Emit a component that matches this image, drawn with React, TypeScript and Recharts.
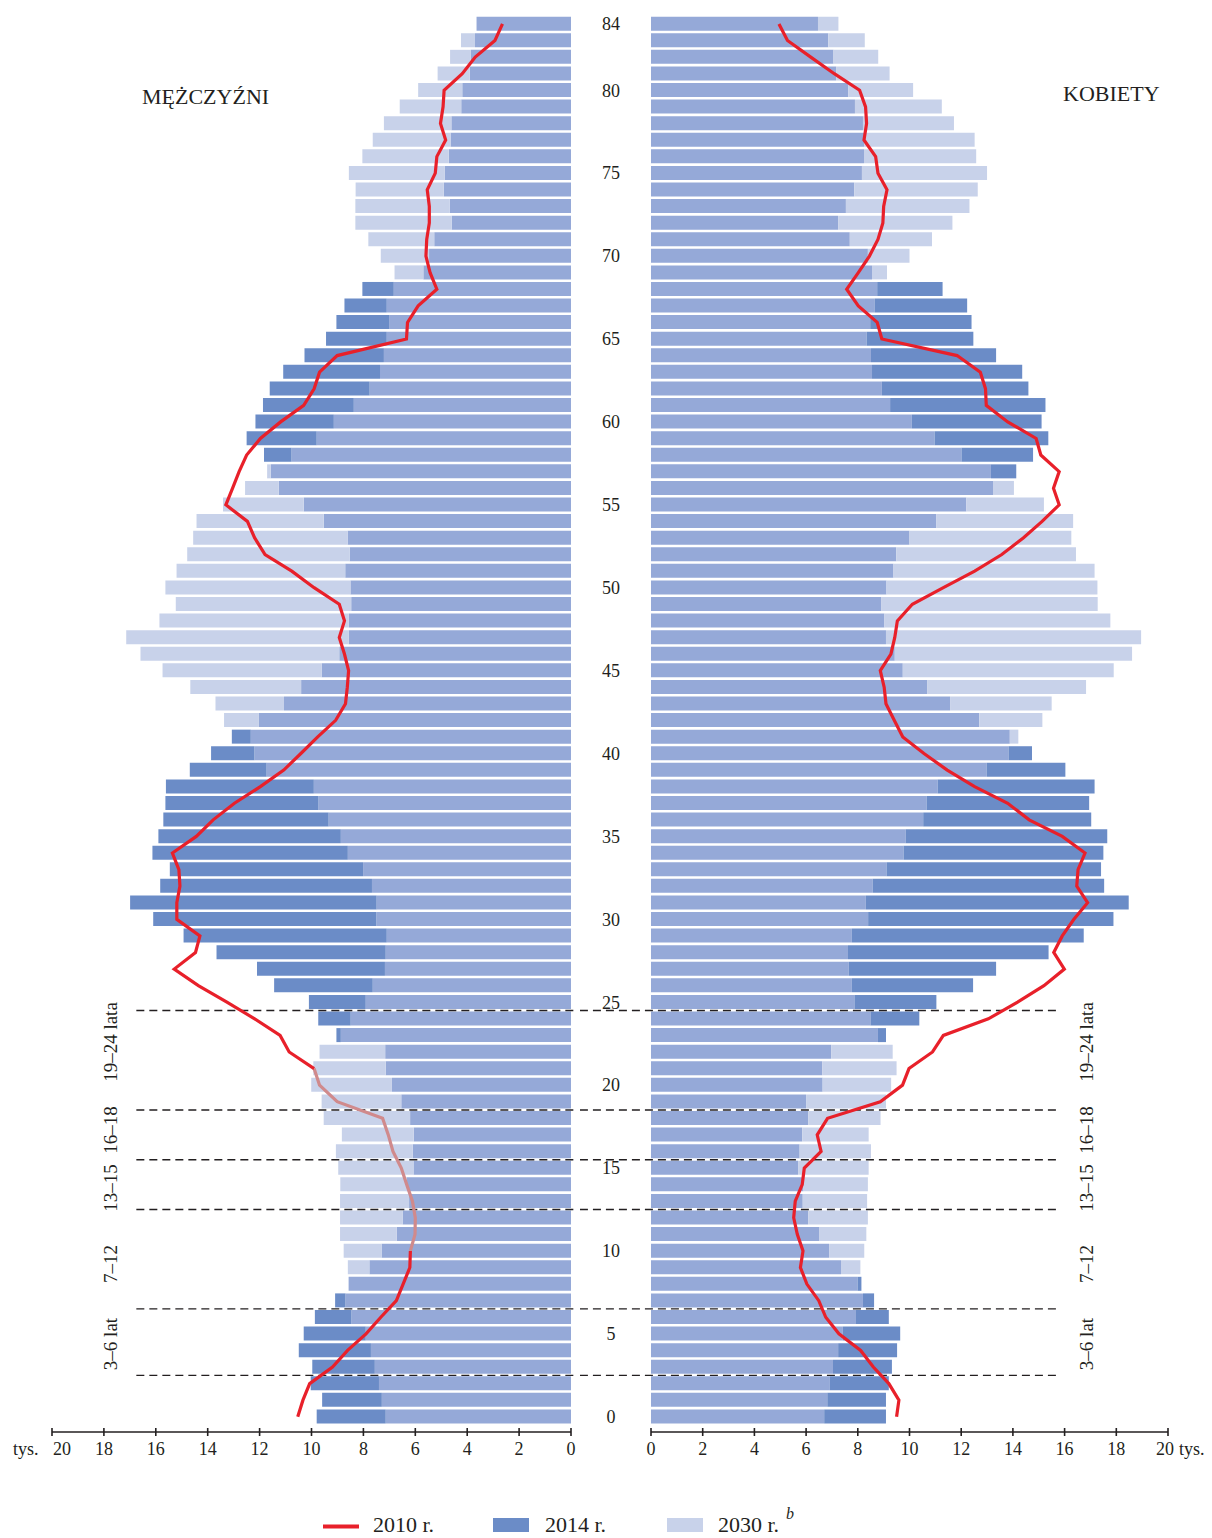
import React from "react";
import { ComposedChart, Bar, Line, XAxis, YAxis, ReferenceLine } from "recharts";

// values in thousands, index = age 0..84
const male2010 = [10.53, 10.33, 10.07, 9.19, 8.61, 7.9, 7.33, 6.73, 6.47, 6.21, 6.19, 6.01, 6.0, 6.11, 6.33, 6.54, 6.86, 7.04, 7.26, 9.01, 9.69, 9.9, 10.86, 11.21, 12.19, 13.26, 14.36, 15.29, 14.47, 14.3, 15.19, 15.19, 15.07, 15.11, 15.36, 14.44, 13.79, 12.97, 11.97, 11.07, 10.41, 9.76, 9.07, 8.69, 8.62, 8.57, 8.73, 8.93, 8.73, 8.93, 9.9, 10.76, 11.79, 12.19, 12.47, 13.3, 13.04, 12.79, 12.5, 11.97, 11.19, 10.3, 9.9, 9.69, 9.01, 6.34, 6.3, 5.89, 5.17, 5.43, 5.59, 5.56, 5.46, 5.46, 5.54, 5.23, 5.17, 4.83, 5.03, 4.93, 4.89, 4.19, 3.69, 2.93, 2.64];
const male2014 = [9.8, 9.59, 10.03, 9.97, 10.49, 10.3, 9.87, 9.09, 8.57, 7.77, 7.3, 6.71, 6.49, 6.24, 6.34, 6.07, 6.1, 6.06, 6.2, 6.54, 6.9, 7.14, 7.16, 9.04, 9.74, 10.1, 11.44, 12.1, 13.66, 14.93, 16.1, 16.99, 15.83, 15.46, 16.13, 15.9, 15.71, 15.63, 15.61, 14.69, 13.87, 13.07, 12.04, 11.06, 10.4, 9.61, 8.93, 8.57, 8.56, 8.47, 8.5, 8.7, 8.53, 8.61, 9.53, 10.3, 11.26, 11.57, 11.83, 12.5, 12.16, 11.87, 11.61, 11.09, 10.27, 9.44, 9.04, 8.73, 8.04, 5.69, 5.47, 5.27, 4.6, 4.67, 4.9, 4.86, 4.71, 4.64, 4.61, 4.23, 4.19, 3.9, 3.86, 3.7, 3.64];
const male2030 = [7.14, 7.29, 7.4, 7.56, 7.71, 7.91, 8.46, 8.69, 8.57, 8.6, 8.76, 8.9, 8.9, 8.9, 8.89, 8.97, 9.06, 8.83, 9.53, 9.61, 10.01, 9.93, 9.69, 8.87, 8.49, 7.91, 7.64, 7.17, 7.14, 7.1, 7.5, 7.49, 7.67, 8.01, 8.6, 8.87, 9.34, 9.73, 9.91, 11.73, 12.2, 12.34, 13.37, 13.7, 14.67, 15.74, 16.59, 17.14, 15.86, 15.23, 15.63, 15.2, 14.79, 14.56, 14.43, 13.41, 12.56, 11.71, 10.77, 9.8, 9.14, 8.37, 7.76, 7.36, 7.21, 7.1, 7.01, 7.1, 6.83, 6.8, 7.33, 7.81, 8.31, 8.31, 8.3, 8.56, 8.04, 7.64, 7.21, 6.6, 5.89, 5.14, 4.66, 4.24, 3.64];

const female2010 = [9.5, 9.59, 9.2, 8.6, 8.11, 7.27, 6.76, 6.49, 6.03, 5.78, 5.88, 5.66, 5.52, 5.58, 5.85, 5.93, 6.58, 6.43, 6.83, 8.87, 9.73, 9.98, 10.89, 11.31, 13.05, 14.18, 15.2, 15.99, 15.58, 15.91, 16.36, 16.89, 16.47, 16.52, 16.79, 15.91, 14.63, 13.8, 12.52, 11.46, 10.56, 9.74, 9.41, 9.09, 9.02, 8.87, 9.28, 9.43, 9.53, 10.11, 11.31, 12.52, 13.57, 14.4, 15.13, 15.79, 15.57, 15.79, 15.08, 14.9, 13.8, 12.97, 12.94, 12.74, 11.84, 8.93, 8.75, 8.02, 7.57, 8.02, 8.45, 8.78, 8.97, 9.0, 9.13, 8.78, 8.69, 8.24, 8.34, 8.3, 8.07, 7.09, 6.18, 5.28, 4.95];
const female2014 = [9.09, 9.09, 9.2, 9.32, 9.52, 9.64, 9.2, 8.63, 8.14, 7.35, 6.89, 6.5, 6.08, 5.87, 5.9, 5.69, 5.75, 5.85, 6.08, 6.0, 6.64, 6.62, 6.97, 9.09, 10.38, 11.04, 12.46, 13.35, 15.38, 16.74, 17.89, 18.48, 17.53, 17.41, 17.5, 17.65, 17.03, 16.95, 17.16, 16.03, 14.74, 13.88, 12.7, 11.57, 10.68, 9.74, 9.43, 9.09, 9.03, 8.9, 9.11, 9.38, 9.49, 10.0, 11.04, 12.2, 13.23, 14.13, 14.78, 15.37, 15.11, 15.26, 14.6, 14.36, 13.35, 12.47, 12.4, 12.23, 11.28, 8.55, 8.39, 7.69, 7.24, 7.54, 7.86, 8.16, 8.24, 8.24, 8.2, 7.89, 7.63, 7.16, 7.06, 6.86, 6.46];
const female2030 = [6.7, 6.82, 6.92, 7.04, 7.24, 7.42, 7.93, 8.2, 7.99, 8.1, 8.25, 8.33, 8.39, 8.36, 8.39, 8.42, 8.51, 8.42, 8.88, 9.09, 9.29, 9.5, 9.35, 8.78, 8.49, 7.87, 7.77, 7.65, 7.62, 7.77, 8.4, 8.31, 8.58, 9.11, 9.77, 9.85, 10.53, 10.66, 11.09, 12.99, 13.83, 14.21, 15.14, 15.5, 16.83, 17.9, 18.61, 18.96, 17.77, 17.28, 17.27, 17.16, 16.44, 16.26, 16.33, 15.2, 14.04, 13.15, 12.01, 10.97, 10.09, 9.25, 8.93, 8.55, 8.51, 8.34, 8.48, 8.66, 8.75, 9.13, 10.0, 10.87, 11.66, 12.32, 12.64, 13.0, 12.58, 12.52, 11.72, 11.25, 10.14, 9.23, 8.79, 8.27, 7.25];

const xTicks = [0, 2, 4, 6, 8, 10, 12, 14, 16, 18, 20];
const ageTicks = [0, 5, 10, 15, 20, 25, 30, 35, 40, 45, 50, 55, 60, 65, 70, 75, 80, 84];
const groupBounds = [2.5, 6.5, 12.5, 15.5, 18.5, 24.5];
const groupLabels = [
  { text: "19–24 lata", y: 1042 },
  { text: "16–18", y: 1130 },
  { text: "13–15", y: 1188 },
  { text: "7–12", y: 1264 },
  { text: "3–6 lat", y: 1344 },
];
// on the men's side the 2010 line shows washed out behind the bars for these ages
const fadedAges: [number, number] = [10, 21];

const DARK = "#6b8cc7";
const MID = "#95a9d8";
const LIGHT = "#c8d2ea";
const RED = "#e8202a";
const FADED_RED = "#d08a8c";
const INK = "#231f20";
const FONT = "'Liberation Serif', 'Times New Roman', serif";

const AGE_DOMAIN: [number, number] = [-0.92, 84.54];

function buildRows(v2010: number[], v2014: number[], v2030: number[], faded: [number, number] | null) {
  return v2014.map((v, i) => {
    const lo = faded ? faded[0] : 84;
    const hi = faded ? faded[1] : 84;
    return {
      age: i,
      base: Math.min(v, v2030[i]),
      over2014: Math.max(0, v - v2030[i]),
      over2030: Math.max(0, v2030[i] - v),
      lineLow: i <= lo ? v2010[i] : null,
      lineFaded: faded && i >= lo && i <= hi ? v2010[i] : null,
      lineHigh: faded && i >= hi ? v2010[i] : null,
    };
  });
}

const maleRows = buildRows(male2010, male2014, male2030, fadedAges);
const femaleRows = buildRows(female2010, female2014, female2030, null);

function XTick(props: any) {
  const { x, y, payload, side } = props;
  const v = payload.value;
  let tx = x;
  let anchor: any = "middle";
  if (side === "left" && v === 20) {
    tx = x + 1;
    anchor = "start";
  }
  if (side === "right" && v === 20) tx = x - 3;
  return (
    <g>
      <line x1={x} x2={x} y1={y - 4} y2={y + 4} stroke={INK} strokeWidth={1.6} />
      <text x={tx} y={y + 23} textAnchor={anchor} fontSize={18} fill={INK} fontFamily={FONT}>
        {v}
      </text>
    </g>
  );
}

function AgeTick(props: any) {
  const { y, payload } = props;
  return (
    <text x={31} y={y} dy="0.35em" textAnchor="middle" fontSize={18} fill={INK} fontFamily={FONT}>
      {payload.value}
    </text>
  );
}

function Pyramid({ rows, side }: { rows: any[]; side: "left" | "right" }) {
  const isLeft = side === "left";
  const lineProps = {
    type: "linear" as const,
    strokeWidth: 3.2,
    dot: false,
    activeDot: false,
    isAnimationActive: false,
  };
  return (
    <ComposedChart
      width={isLeft ? 580 : 632}
      height={1480}
      data={rows}
      layout="vertical"
      margin={isLeft ? { top: 15, right: 9, bottom: 8, left: 52 } : { top: 15, right: 44, bottom: 8, left: 0 }}
    >
      <XAxis
        type="number"
        domain={[0, 20]}
        ticks={xTicks}
        reversed={isLeft}
        allowDataOverflow
        height={40}
        tickSize={0}
        tickMargin={0}
        tickLine={false}
        axisLine={{ stroke: INK, strokeWidth: 1.6 }}
        tick={<XTick side={side} />}
        interval={0}
      />
      <YAxis
        type="number"
        dataKey="age"
        domain={AGE_DOMAIN}
        ticks={ageTicks}
        reversed
        hide={isLeft}
        width={71}
        axisLine={false}
        tickLine={false}
        tick={<AgeTick />}
        interval={0}
        allowDataOverflow
      />
      <Bar dataKey="base" stackId="a" fill={MID} barSize={14} isAnimationActive={false} />
      <Bar dataKey="over2014" stackId="a" fill={DARK} barSize={14} isAnimationActive={false} />
      <Bar dataKey="over2030" stackId="a" fill={LIGHT} barSize={14} isAnimationActive={false} />
      {groupBounds.map((g) => (
        <ReferenceLine
          key={g}
          ifOverflow="visible"
          segment={isLeft ? [{ x: 16.75, y: g }, { x: -0.1, y: g }] : [{ x: -2.75, y: g }, { x: 15.75, y: g }]}
          stroke={INK}
          strokeWidth={1.3}
          strokeDasharray="8 5"
        />
      ))}
      {isLeft && <Line dataKey="lineFaded" stroke={FADED_RED} {...lineProps} />}
      <Line dataKey="lineLow" stroke={RED} {...lineProps} />
      {isLeft && <Line dataKey="lineHigh" stroke={RED} {...lineProps} />}
    </ComposedChart>
  );
}

export default function App() {
  return (
    <div style={{ position: "absolute", left: 0, top: 0, width: 1212, height: 1538, background: "#fff", fontFamily: FONT }}>
      <div style={{ position: "absolute", left: 0, top: 0 }}>
        <Pyramid rows={maleRows} side="left" />
      </div>
      <div style={{ position: "absolute", left: 580, top: 0 }}>
        <Pyramid rows={femaleRows} side="right" />
      </div>
      <svg
        width={1212}
        height={1538}
        style={{ position: "absolute", left: 0, top: 0, pointerEvents: "none" }}
        fontFamily={FONT}
        fill={INK}
      >
        <text x={142} y={104} fontSize={22}>MĘŻCZYŹNI</text>
        <text x={1063} y={101} fontSize={22}>KOBIETY</text>
        {groupLabels.map((g) => (
          <g key={g.text}>
            <text x={110} y={g.y} fontSize={19} textAnchor="middle" dy="0.35em" transform={`rotate(-90 110 ${g.y})`}>
              {g.text}
            </text>
            <text x={1086} y={g.y} fontSize={19} textAnchor="middle" dy="0.35em" transform={`rotate(-90 1086 ${g.y})`}>
              {g.text}
            </text>
          </g>
        ))}
        <text x={13} y={1455} fontSize={18}>tys.</text>
        <text x={1179} y={1455} fontSize={18}>tys.</text>
        <line x1={323} x2={359} y1={1526.5} y2={1526.5} stroke={RED} strokeWidth={4} />
        <text x={373} y={1532} fontSize={22}>2010 r.</text>
        <rect x={493} y={1518} width={36} height={14} fill={DARK} />
        <text x={545} y={1532} fontSize={22}>2014 r.</text>
        <rect x={667} y={1518} width={36} height={14} fill={LIGHT} />
        <text x={718} y={1532} fontSize={22}>2030 r.</text>
        <text x={786} y={1519} fontSize={16} fontStyle="italic">b</text>
      </svg>
    </div>
  );
}
